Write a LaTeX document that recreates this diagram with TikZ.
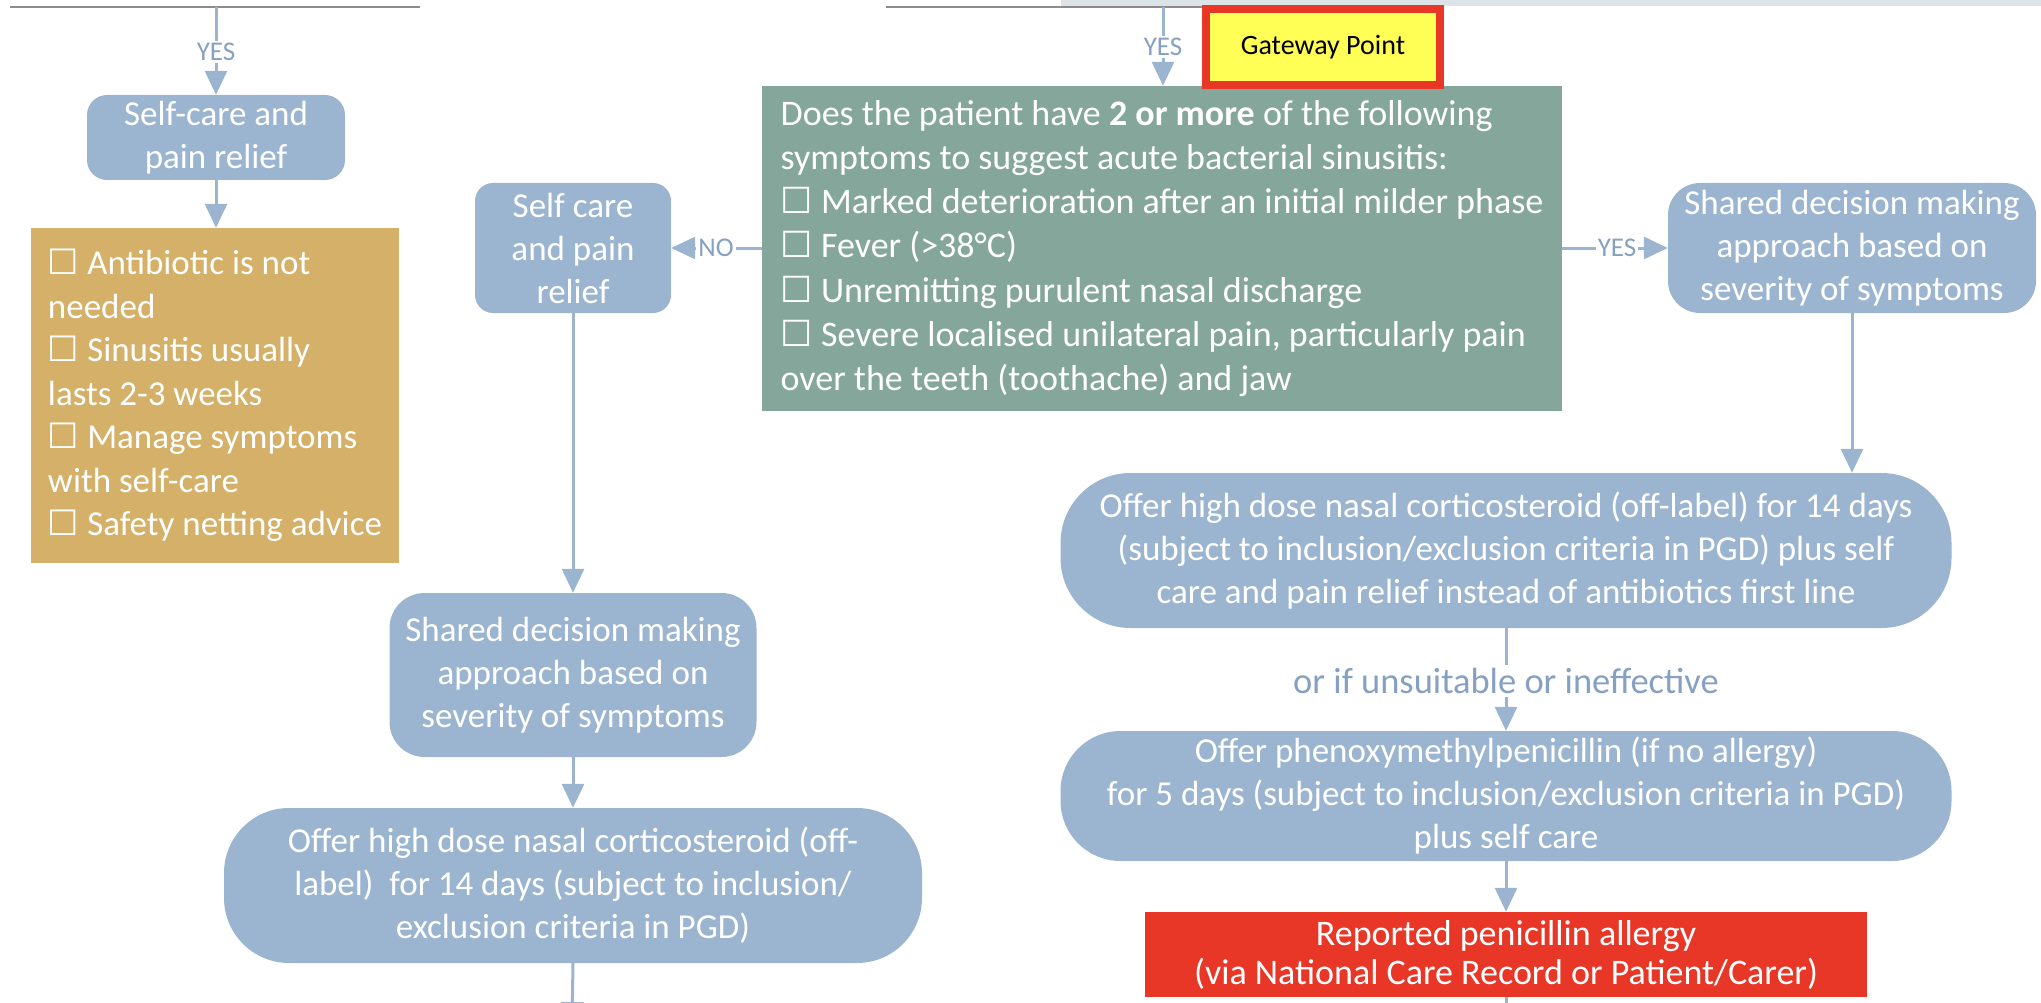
\documentclass[tikz,border=0pt]{standalone}
\usepackage{fontspec}
\setmainfont{Carlito}
\newfontfamily\symfont{DejaVu Sans}
\usetikzlibrary{arrows.meta}
\definecolor{boxblue}{HTML}{9BB5D0}
\definecolor{arrowc}{HTML}{9BB5D0}
\definecolor{lblc}{HTML}{86A0C2}
\definecolor{goldc}{HTML}{D4B068}
\definecolor{greenc}{HTML}{84A69B}
\definecolor{redc}{HTML}{E83726}
\definecolor{yellowc}{HTML}{FFFF55}
\definecolor{barc}{HTML}{DDE4E7}
\definecolor{topc}{HTML}{8C8C8C}
\newcommand{\cb}{{\symfont ☐}}
\tikzset{
  flow/.style={draw=arrowc, line width=3pt, -{Triangle[length=24pt,width=22pt]}},
  plainline/.style={draw=arrowc, line width=3pt},
  lbl/.style={fill=white, text=lblc, font=\fontsize{27}{30}\selectfont, inner sep=2pt},
  bbox/.style={fill=boxblue, text=white, align=center, font=\fontsize{35}{43}\selectfont, inner sep=0pt},
  topline/.style={draw=topc, line width=2.5pt},
}
\begin{document}
\begin{tikzpicture}[x=1pt,y=-1pt]
\useasboundingbox (0,0) rectangle (2041,1003);
\clip (0,0) rectangle (2041,1003);

% top remnants of boxes above
\fill[barc] (1061,0) rectangle (2041,6);
\draw[topline] (10,7) -- (420,7);
\draw[topline] (886,7) -- (1202,7);

\coordinate (inL) at (216,7);
\coordinate (inM) at (1163,7);
\coordinate (outL) at (572,1026);
\coordinate (outR) at (1506,1020);

% left column
\node[bbox, minimum width=258pt, minimum height=85pt, rounded corners=20pt] (sc1) at (216,137.5) {Self-care and\\pain relief};
\node[fill=goldc, text=white, align=left, font=\fontsize{35}{43.5}\selectfont, inner sep=0pt,
      minimum width=368pt, minimum height=335pt] (gold) at (215,395.5)
  {\cb\ Antibiotic is not\\needed\\\cb\ Sinusitis usually\\lasts 2-3 weeks\\\cb\ Manage symptoms\\with self-care\\\cb\ Safety netting advice};

% middle column
\node[bbox, minimum width=196pt, minimum height=130pt, rounded corners=18pt] (sc2) at (573,248) {Self care\\and pain\\relief};
\node[bbox, minimum width=367pt, minimum height=164pt, rounded corners=35pt] (sd1) at (573,675) {Shared decision making\\approach based on\\severity of symptoms};
\node[bbox, minimum width=698pt, minimum height=155pt, rounded corners=65pt] (off1) at (573,885.5) {Offer high dose nasal corticosteroid (off-\\label)\ \ for 14 days (subject to inclusion/\\exclusion criteria in PGD)};

% question box
\node[fill=greenc, text=white, align=left, font=\fontsize{36}{44.3}\selectfont, inner sep=0pt,
      minimum width=800pt, minimum height=325pt] (green) at (1162,248.5)
  {Does the patient have \textbf{2 or more} of the following\\symptoms to suggest acute bacterial sinusitis:\\\cb\ Marked deterioration after an initial milder phase\\\cb\ Fever (>38°C)\\\cb\ Unremitting purulent nasal discharge\\\cb\ Severe localised unilateral pain, particularly pain\\over the teeth (toothache) and jaw};
\node[fill=yellowc, draw=redc, line width=8pt, text=black, font=\fontsize{28}{32}\selectfont,
      minimum width=234pt, minimum height=76pt, inner sep=0pt] (gate) at (1323,47) {Gateway Point};

% right column
\node[bbox, minimum width=368pt, minimum height=130pt, rounded corners=32pt] (sd2) at (1852,248) {Shared decision making\\approach based on\\severity of symptoms};
\node[bbox, minimum width=891pt, minimum height=155pt, rounded corners=70pt] (off2) at (1506,550.5) {Offer high dose nasal corticosteroid (off-label) for 14 days\\(subject to inclusion/exclusion criteria in PGD) plus self\\care and pain relief instead of antibiotics first line};
\node[bbox, minimum width=891pt, minimum height=130pt, rounded corners=60pt] (pen) at (1506,796) {Offer phenoxymethylpenicillin (if no allergy)\\for 5 days (subject to inclusion/exclusion criteria in PGD)\\plus self care};
\node[fill=redc, text=white, align=center, font=\fontsize{36}{39}\selectfont, inner sep=0pt,
      minimum width=722pt, minimum height=85pt] (red) at (1506,954.5) {Reported penicillin allergy\\(via National Care Record or Patient/Carer)};

% connectors
\draw[flow] (inL) -- (sc1.north);
\node[lbl] (yesL) at (216,52) {YES};
\draw[flow] (sc1.south) -- (sc1.south |- gold.north);
\draw[flow] (inM) -- (inM |- green.north);
\node[lbl] (yesM) at (1163,47) {YES};
\draw[flow] (green.west |- sc2.east) -- (sc2.east);
\node[lbl] (noL) at (716,248) {NO};
\draw[flow] (green.east |- sd2.west) -- (sd2.west);
\node[lbl] (yesR) at (1617,248) {YES};
\draw[flow] (sc2.south) -- (sd1.north);
\draw[flow] (sd1.south) -- (off1.north);
\draw[flow] (off1.south) -- (outL);
\draw[flow] (sd2.south) -- (sd2.south |- off2.north);
\draw[flow] (off2.south) -- (pen.north);
\node[fill=white, text=lblc, font=\fontsize{36.5}{40}\selectfont, inner sep=3pt] (orif) at (1506,681) {or if unsuitable or ineffective};
\draw[flow] (pen.south) -- (red.north);
\draw[plainline] (red.south) -- (outR);
\end{tikzpicture}
\end{document}
